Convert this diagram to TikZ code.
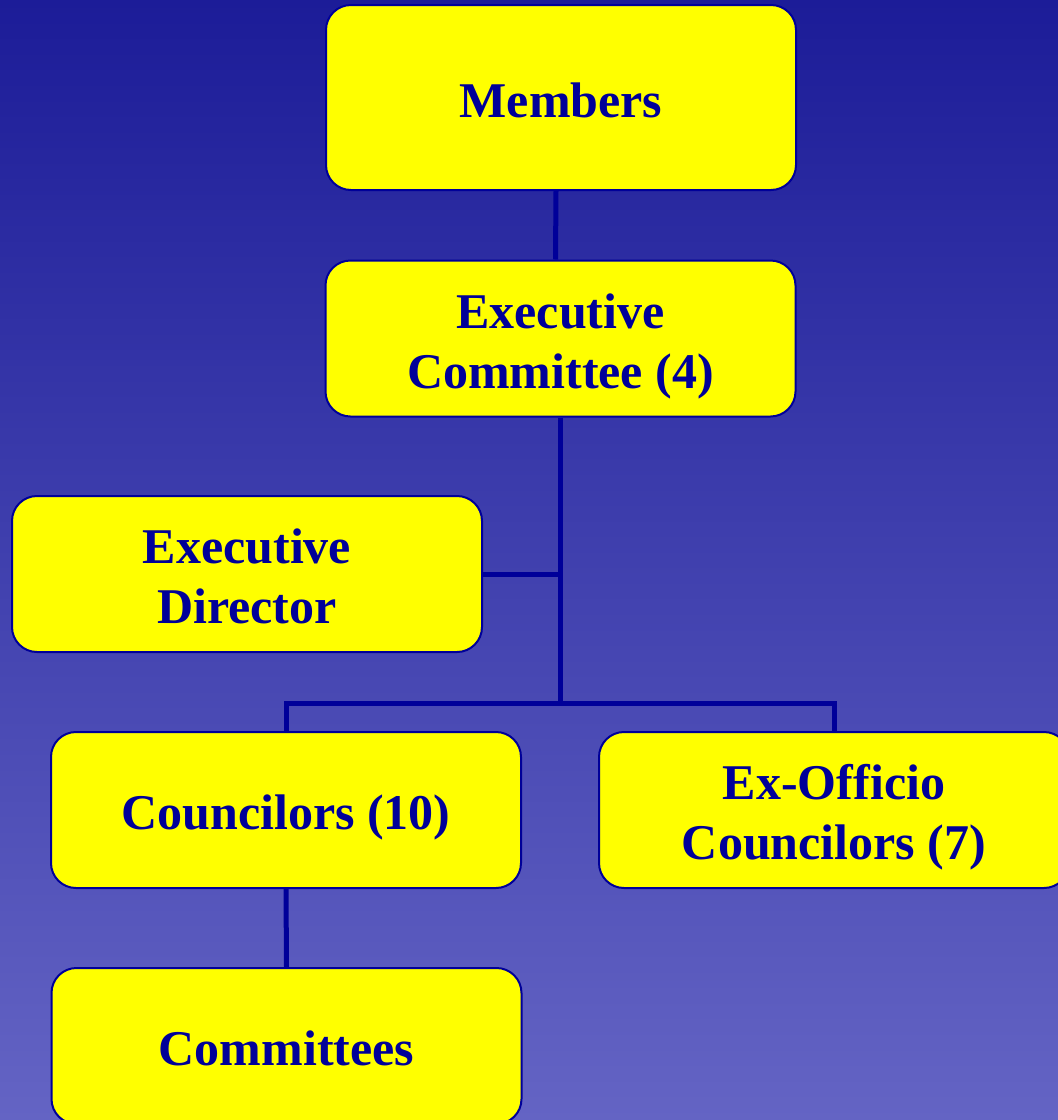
\documentclass[tikz,border=0pt]{standalone}
\usepackage{fontspec}
\setmainfont{Liberation Serif}
\usepackage{xcolor}
\definecolor{orgblue}{RGB}{0,0,153}
\definecolor{boxyellow}{RGB}{255,255,0}
\definecolor{bgtop}{RGB}{28,28,152}
\definecolor{bgbottom}{RGB}{100,100,196}

\begin{document}
\begin{tikzpicture}[x=1pt, y=-1pt,
    box/.style={draw=orgblue, line width=2pt, fill=boxyellow, rounded corners=25pt,
      minimum width=470pt, minimum height=156pt, align=center, text=orgblue,
      font=\fontsize{50}{60}\selectfont\bfseries, inner sep=0pt,
      text height=40pt, text depth=1pt},
    twoline/.style={text height=100pt},
    link/.style={draw=orgblue, line width=5pt}]
  \shade[top color=bgtop, bottom color=bgbottom] (0,0) rectangle (1058,1120);
  \useasboundingbox (0,0) rectangle (1058,1120);
  \clip (0,0) rectangle (1058,1120);

  % boxes
  \node[box, minimum height=185pt] (members) at (561,97.5) {Members};
  \node[box, twoline] (execcom) at (560.5,338.5) {Executive\\Committee (4)};
  \node[box, twoline] (execdir) at (247,574) {Executive\\Director};
  \node[box] (councilors) at (286,810) {Councilors (10)};
  \node[box, twoline] (exofficio) at (834,810) {Ex-Officio\\Councilors (7)};
  \node[box] (committees) at (286.5,1046) {Committees};
  \coordinate (split) at (560,703);

  % lines
  \draw[link] ([xshift=-5pt]members.south) -- ([xshift=-5pt]execcom.north);
  \draw[link] (execcom.south -| split) -- (split);
  \draw[link] (execdir.east) -- (execdir.east -| split);
  \draw[link] (councilors.north) -- (councilors.north |- split)
    -- (exofficio.north |- split) -- (exofficio.north);
  \draw[link] (councilors.south) -- (committees.north);
\end{tikzpicture}
\end{document}
